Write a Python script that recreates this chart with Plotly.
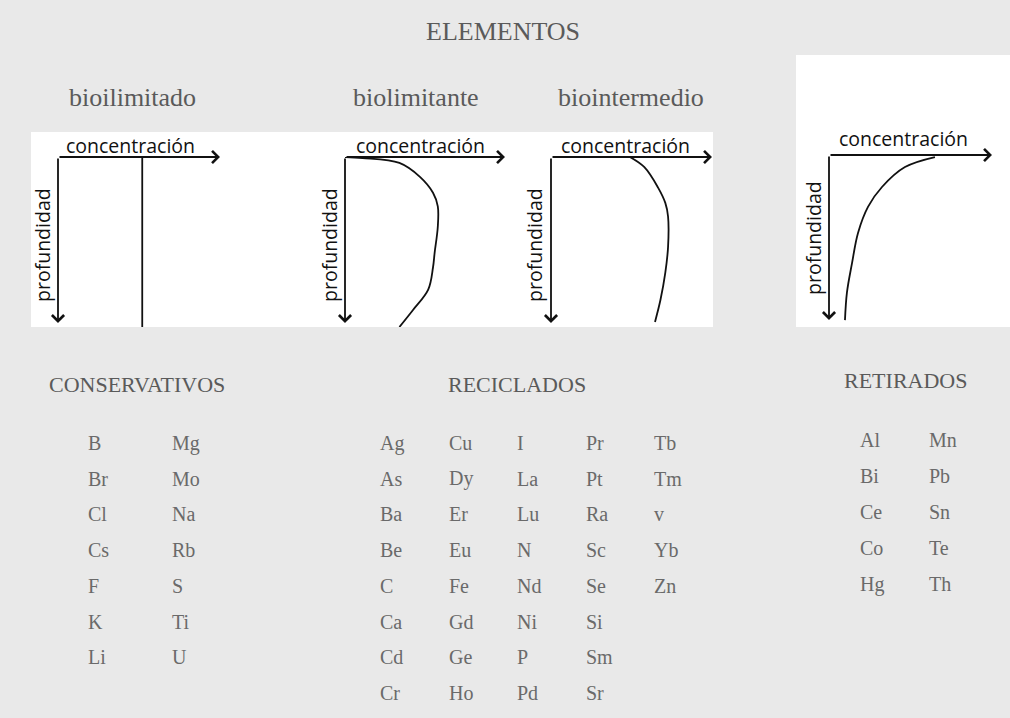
import plotly.graph_objects as go

W, H = 1010, 718

# ---------------- data ----------------
title_text = "ELEMENTOS"
profile_titles = ["bioilimitado", "biolimitante", "biointermedio", ""]
x_label = "concentración"
y_label = "profundidad"

# normalised profiles: concentration (0..1) versus depth (0..1)
bioilimitado_conc = [0.52, 0.52]
bioilimitado_depth = [0.0, 1.0]
biolimitante_conc = [0.0, 0.11, 0.34, 0.47, 0.55, 0.58, 0.58, 0.56, 0.55, 0.52, 0.425, 0.34]
biolimitante_depth = [0.0, 0.006, 0.035, 0.118, 0.21, 0.29, 0.41, 0.565, 0.65, 0.78, 0.9, 1.0]
biointermedio_conc = [0.49, 0.58, 0.665, 0.71, 0.727, 0.727, 0.71, 0.68, 0.646]
biointermedio_depth = [0.0, 0.06, 0.18, 0.27, 0.35, 0.53, 0.68, 0.84, 0.97]
retirado_conc = [0.65, 0.466, 0.325, 0.24, 0.178, 0.141, 0.11, 0.098]
retirado_depth = [0.012, 0.07, 0.186, 0.30, 0.453, 0.63, 0.80, 0.96]

group_titles = ["CONSERVATIVOS", "RECICLADOS", "RETIRADOS"]
conservativos_cols = [
    ["B", "Br", "Cl", "Cs", "F", "K", "Li"],
    ["Mg", "Mo", "Na", "Rb", "S", "Ti", "U"],
]
reciclados_cols = [
    ["Ag", "As", "Ba", "Be", "C", "Ca", "Cd", "Cr"],
    ["Cu", "Dy", "Er", "Eu", "Fe", "Gd", "Ge", "Ho"],
    ["I", "La", "Lu", "N", "Nd", "Ni", "P", "Pd"],
    ["Pr", "Pt", "Ra", "Sc", "Se", "Si", "Sm", "Sr"],
    ["Tb", "Tm", "v", "Yb", "Zn"],
]
retirados_cols = [
    ["Al", "Bi", "Ce", "Co", "Hg"],
    ["Mn", "Pb", "Sn", "Te", "Th"],
]

profiles = [
    (bioilimitado_conc, bioilimitado_depth),
    (biolimitante_conc, biolimitante_depth),
    (biointermedio_conc, biointermedio_depth),
    (retirado_conc, retirado_depth),
]

# ---------------- layout geometry (pixels) ----------------
panels = [
    dict(ox=58, xe=220, oy=157, yb=327, ve=323, lx=130, ly=145, px=43, py=245, tx=132),
    dict(ox=345, xe=505, oy=157, yb=327, ve=323, lx=420, ly=145, px=330, py=245, tx=416),
    dict(ox=551, xe=712, oy=157, yb=327, ve=323, lx=625, ly=145, px=535, py=245, tx=631),
    dict(ox=829, xe=992, oy=155, yb=327, ve=320, lx=903, ly=139, px=813, py=238, tx=0),
]
tables = [
    dict(cols=conservativos_cols, x0=86, dx=84, y0=443, dy=35.7, nrows=8, tcx=137, tcy=384),
    dict(cols=reciclados_cols, x0=378, dx=68.5, y0=443, dy=35.7, nrows=8, tcx=517, tcy=384),
    dict(cols=retirados_cols, x0=858, dx=69, y0=440, dy=36, nrows=5, tcx=905, tcy=380),
]

def px(x):
    return x / W

def py(y):
    return 1 - y / H

SERIF = "Liberation Serif"
SANS = "Open Sans"
GREY = "#5a5a5a"
SANS_SIZE = 19.5

fig = go.Figure()
layout = dict(
    width=W, height=H, margin=dict(l=0, r=0, t=0, b=0),
    paper_bgcolor="#e9e9e9", plot_bgcolor="rgba(0,0,0,0)",
    showlegend=False,
)
shapes = [
    dict(type="rect", xref="paper", yref="paper", x0=px(31), x1=px(713), y0=py(327), y1=py(132),
         fillcolor="white", line=dict(width=0), layer="below"),
    dict(type="rect", xref="paper", yref="paper", x0=px(796), x1=px(1010), y0=py(327), y1=py(55),
         fillcolor="white", line=dict(width=0), layer="below"),
]
annotations = [
    dict(text=title_text, x=px(503), y=py(32), xref="paper", yref="paper", showarrow=False,
         font=dict(family=SERIF, size=26, color=GREY), xanchor="center", yanchor="middle"),
]

ax_i = 0
for i, (p, (conc, depth)) in enumerate(zip(panels, profiles)):
    ax_i += 1
    xa = "x" if ax_i == 1 else f"x{ax_i}"
    ya = "y" if ax_i == 1 else f"y{ax_i}"
    xkey = "xaxis" if ax_i == 1 else f"xaxis{ax_i}"
    ykey = "yaxis" if ax_i == 1 else f"yaxis{ax_i}"
    layout[xkey] = dict(domain=[px(p["ox"]), px(p["xe"])], range=[0, 1], visible=False,
                        anchor=ya, fixedrange=True)
    layout[ykey] = dict(domain=[py(p["yb"]), py(p["oy"])], range=[1, 0], visible=False,
                        anchor=xa, fixedrange=True)
    vend = (p["ve"] - p["oy"]) / (p["yb"] - p["oy"])
    annotations.append(dict(x=1, y=0, ax=0, ay=0, xref=xa, yref=ya, axref=xa, ayref=ya,
                            showarrow=True, arrowhead=4, arrowsize=1.3, arrowwidth=1.8,
                            arrowcolor="#111", text=""))
    annotations.append(dict(x=0, y=vend, ax=0, ay=0, xref=xa, yref=ya, axref=xa, ayref=ya,
                            showarrow=True, arrowhead=4, arrowsize=1.3, arrowwidth=1.8,
                            arrowcolor="#111", text=""))
    fig.add_trace(go.Scatter(x=conc, y=depth, xaxis=xa, yaxis=ya, mode="lines",
                             line=dict(color="#111", width=1.8, shape="spline", smoothing=1.0),
                             cliponaxis=False, hoverinfo="skip"))
    annotations.append(dict(text=x_label, x=px(p["lx"]), y=py(p["ly"]), xref="paper", yref="paper",
                            showarrow=False, font=dict(family=SANS, size=SANS_SIZE, color="#111"),
                            xanchor="center", yanchor="middle"))
    annotations.append(dict(text=y_label, x=px(p["px"]), y=py(p["py"]), xref="paper", yref="paper",
                            showarrow=False, textangle=-90,
                            font=dict(family=SANS, size=SANS_SIZE, color="#111"),
                            xanchor="center", yanchor="middle"))
    if profile_titles[i]:
        annotations.append(dict(text=profile_titles[i], x=px(p["tx"]), y=py(98), xref="paper",
                                yref="paper", showarrow=False,
                                font=dict(family=SERIF, size=26, color=GREY),
                                xanchor="center", yanchor="middle"))

for gt, t in zip(group_titles, tables):
    ax_i += 1
    xa, ya = f"x{ax_i}", f"y{ax_i}"
    ncols = len(t["cols"])
    x_lo = t["x0"] - t["dx"] / 2
    x_hi = t["x0"] + t["dx"] * (ncols - 0.5)
    y_top = t["y0"] - t["dy"] / 2
    y_bot = y_top + t["dy"] * t["nrows"]
    layout[f"xaxis{ax_i}"] = dict(domain=[px(x_lo), px(x_hi)], range=[-0.5, ncols - 0.5],
                                  visible=False, anchor=ya, fixedrange=True)
    layout[f"yaxis{ax_i}"] = dict(domain=[py(y_bot), py(y_top)], range=[t["nrows"] - 0.5, -0.5],
                                  visible=False, anchor=xa, fixedrange=True)
    annotations.append(dict(text=gt, x=px(t["tcx"]), y=py(t["tcy"]), xref="paper", yref="paper",
                            showarrow=False, font=dict(family=SERIF, size=22, color=GREY),
                            xanchor="center", yanchor="middle"))
    for c, col in enumerate(t["cols"]):
        for r, el in enumerate(col):
            annotations.append(dict(text=el, x=c, y=r, xref=xa, yref=ya, showarrow=False,
                                    xanchor="left", yanchor="middle",
                                    font=dict(family=SERIF, size=20, color="#6a6a6a")))

layout["shapes"] = shapes
layout["annotations"] = annotations
fig.update_layout(**layout)
fig.write_html(
    "out.html",
    config={"displayModeBar": False},
    post_script="document.body.style.margin='0';document.body.style.overflow='hidden';",
)
